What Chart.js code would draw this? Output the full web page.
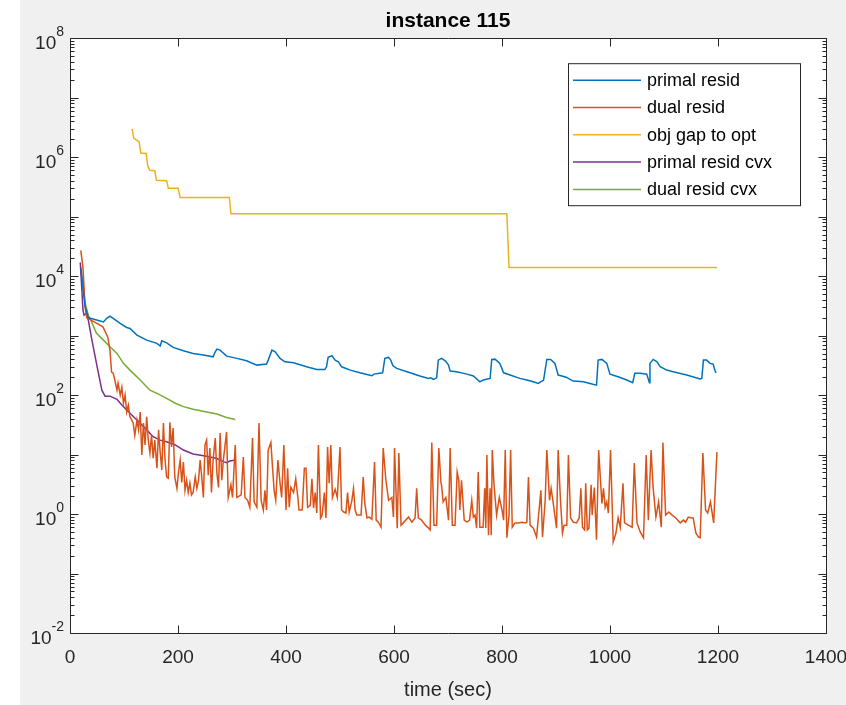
<!DOCTYPE html>
<html>
<head>
<meta charset="utf-8">
<script src="https://cdn.jsdelivr.net/npm/chart.js@4.4.1/dist/chart.umd.min.js"></script>
<style>
  html, body { margin: 0; padding: 0; background: #f0f0f0; }
  #wrap { position: absolute; left: 0; top: 0; width: 846px; height: 705px; }
</style>
</head>
<body>
<div id="wrap"><canvas id="myChart" width="846" height="705"></canvas></div>
<script>
// values (time in sec)
const primalT = [20, 24, 28, 34, 46, 62, 68, 74, 80, 93,
  105, 111, 124, 142, 161, 167, 170, 179, 191, 210,
  228, 247, 265, 269, 272, 278, 290, 309, 327, 346,
  364, 367, 374, 380, 389, 398, 414, 438, 457, 472,
  475, 478, 485, 491, 497, 503, 519, 537, 559, 563,
  579, 583, 590, 594, 598, 605, 624, 648, 664, 668,
  673, 679, 682, 688, 695, 701, 704, 716, 735, 747,
  759, 765, 778, 781, 787, 796, 803, 815, 833, 846,
  858, 867, 877, 883, 890, 898, 904, 911, 920, 926,
  932, 951, 963, 975, 978, 985, 994, 1000, 1015, 1031,
  1042, 1046, 1056, 1068, 1073, 1074, 1080, 1087, 1093, 1105,
  1117, 1142, 1167, 1170, 1173, 1179, 1185, 1191, 1195, 1197];
const primalResid = [1.35e4, 6.6e3, 3.05e3, 2.0e3, 1.87e3, 1.7e3, 1.95e3, 2.13e3, 1.95e3, 1.6e3,
  1.37e3, 1.32e3, 1.02e3, 840, 740, 667, 818, 757, 634, 556,
  502, 470, 440, 535, 593, 570, 452, 414, 377, 319,
  332, 387, 570, 535, 414, 363, 349, 299, 270, 270,
  299, 430, 458, 387, 363, 299, 263, 237, 211, 225,
  237, 414, 430, 387, 311, 281, 247, 209, 191, 195,
  184, 195, 387, 414, 377, 319, 253, 247, 225, 209,
  167, 179, 191, 398, 402, 341, 237, 217, 191, 179,
  167, 157, 179, 398, 398, 341, 217, 209, 198, 184,
  172, 167, 157, 147, 387, 398, 341, 225, 203, 179,
  161, 232, 232, 225, 161, 341, 398, 363, 299, 263,
  247, 217, 186, 191, 387, 387, 341, 332, 247, 237];

const dualT = [20, 24, 28, 31, 40, 61, 70, 74, 77, 80,
  83, 87, 89, 93, 96, 99, 102, 105, 108, 111,
  117, 120, 124, 127, 130, 133, 136, 139, 142, 145,
  148, 151, 154, 157, 161, 164, 167, 170, 173, 176,
  179, 182, 185, 188, 191, 194, 198, 201, 204, 207,
  210, 213, 216, 219, 222, 225, 228, 232, 235, 238,
  241, 244, 247, 250, 253, 256, 259, 262, 265, 269,
  272, 275, 278, 281, 284, 290, 293, 298, 301, 306,
  309, 317, 321, 324, 329, 333, 338, 341, 346, 350,
  354, 358, 361, 364, 367, 372, 375, 378, 381, 385,
  389, 392, 396, 400, 403, 406, 409, 414, 418, 422,
  424, 430, 434, 437, 440, 445, 448, 451, 454, 457,
  460, 464, 467, 471, 474, 477, 480, 483, 486, 491,
  495, 500, 503, 507, 511, 514, 517, 522, 525, 528,
  531, 539, 543, 546, 550, 554, 559, 564, 567, 571,
  576, 580, 585, 590, 596, 599, 601, 606, 609, 613,
  617, 627, 633, 639, 642, 645, 651, 658, 664, 667,
  670, 674, 679, 683, 687, 688, 691, 696, 701, 704,
  708, 713, 717, 720, 722, 725, 730, 735, 740, 744,
  747, 750, 753, 756, 759, 765, 768, 770, 772, 775,
  778, 780, 782, 785, 790, 795, 800, 803, 806, 809,
  813, 816, 819, 824, 830, 837, 843, 846, 849, 852,
  858, 864, 872, 875, 880, 883, 888, 891, 895, 901,
  904, 908, 912, 915, 920, 923, 927, 932, 938, 943,
  946, 949, 953, 955, 958, 961, 965, 967, 971, 975,
  979, 985, 988, 991, 994, 997, 1001, 1006, 1011, 1015,
  1019, 1024, 1027, 1034, 1041, 1045, 1050, 1056, 1062, 1067,
  1071, 1076, 1080, 1085, 1090, 1095, 1098, 1103, 1109, 1115,
  1122, 1130, 1136, 1140, 1145, 1151, 1154, 1159, 1164, 1167,
  1172, 1177, 1181, 1186, 1192, 1198];
const dualResid = [2.7e4, 1.4e4, 3.0e3, 2.0e3, 1.8e3, 1.4e3, 940, 570, 244, 234,
  179, 121, 159, 100, 136, 73, 100, 52, 68, 43,
  34, 21, 38, 26, 52, 9.8, 34, 14.5, 43, 17.5,
  10.6, 21, 8.7, 17.5, 5.9, 26, 11, 5.5, 34, 8.1,
  4.2, 4.0, 35, 13.4, 28, 4.2, 2.7, 5.1, 8.1, 3.4,
  7.5, 2.5, 3.7, 2.3, 3.3, 2.1, 2.3, 4.2, 2.7, 3.7,
  8.1, 4.2, 1.9, 14.5, 17.5, 4.5, 12.9, 2.3, 8.1, 19,
  4.9, 2.8, 23, 3.7, 8.1, 24, 1.9, 3.1, 1.9, 14.5,
  1.9, 2.1, 9.1, 1.9, 1.7, 1.3, 19, 1.6, 1.3, 34,
  1.7, 1.17, 2.5, 1.17, 11.9, 16, 6.2, 2.5, 1.7, 8.1,
  3.3, 1.9, 14.5, 1.17, 5.9, 1.3, 2.8, 2.3, 3.9, 1.9,
  1.17, 1.17, 5.9, 5.9, 1.3, 1.4, 3.9, 1.26, 2.3, 1.04,
  14.5, 0.86, 0.96, 2.3, 0.86, 13.4, 3.3, 14.5, 1.9, 2.6,
  1.9, 13.4, 1.17, 1.08, 1.04, 2.3, 1.08, 1.7, 2.7, 1.17,
  0.96, 0.96, 4.2, 1.5, 0.86, 0.89, 0.82, 7.5, 0.79, 0.73,
  0.6, 12.9, 3.7, 1.7, 1.9, 0.89, 12.9, 0.58, 10.6, 0.65,
  0.71, 0.89, 0.73, 0.86, 2.7, 0.86, 0.79, 0.65, 0.58, 0.54,
  16, 0.65, 0.65, 12.9, 3.3, 3.1, 1.6, 1.9, 0.79, 12.9,
  0.65, 0.65, 5.1, 3.7, 1.17, 3.7, 0.79, 0.73, 0.79, 1.7,
  0.89, 0.96, 0.58, 5.1, 0.6, 0.6, 2.7, 0.58, 9.8, 0.44,
  2.7, 0.44, 11.9, 3.3, 0.96, 1.9, 1.17, 0.79, 11.9, 0.40,
  0.96, 11.9, 0.6, 0.71, 0.71, 0.73, 0.71, 0.73, 4.2, 0.65,
  0.58, 0.41, 2.5, 0.41, 1.7, 11.9, 1.7, 2.7, 1.5, 0.58,
  11.9, 1.9, 0.48, 0.65, 0.65, 9.8, 0.86, 0.73, 0.71, 0.86,
  2.7, 0.6, 0.54, 3.3, 0.54, 0.58, 3.1, 0.96, 2.8, 0.37,
  11.9, 1.5, 2.7, 1.3, 1.6, 1.04, 11.9, 0.34, 0.48, 0.86,
  0.6, 3.3, 0.71, 0.65, 0.6, 7.2, 0.71, 0.5, 0.4, 9.8,
  0.79, 11.9, 2.7, 0.89, 1.6, 0.6, 16, 0.96, 1.08, 0.96,
  0.86, 0.71, 0.79, 0.73, 0.89, 0.86, 0.86, 0.48, 0.41, 0.40,
  10.6, 1.17, 1.04, 1.6, 0.71, 11];

const gapT = [115, 118, 128, 131, 141, 144, 148, 157, 160, 179, 182, 200, 204, 295, 298, 809, 813, 1198];
const objGap = [3.0e6, 2.1e6, 1.8e6, 1.17e6, 1.15e6, 7.1e5, 6.0e5, 5.9e5, 4.1e5, 4.0e5,
  3.0e5, 3.0e5, 2.1e5, 2.1e5, 1.12e5, 1.12e5, 1.4e4, 1.4e4];

const primalCvxT = [19, 22, 24, 26, 30, 34, 40, 49, 59, 65, 74, 87, 96, 105,
  124, 142, 154, 167, 179, 195, 210, 228, 253, 272, 284, 290, 296, 307];
const primalResidCvx = [1.7e4, 5.8e3, 2.7e3, 2.2e3, 2.36e3, 1.8e3, 900, 341, 121, 96, 96, 85, 68, 56,
  38, 26, 20, 17.5, 16.4, 14.5, 11.9, 10.2, 9.4, 8.6, 7.6, 7.3, 7.8, 8.1];

const dualCvxT = [20, 24, 28, 34, 40, 49, 62, 74, 87, 99, 111, 130, 148, 161, 179, 195, 210, 228, 253, 272, 290, 306];
const dualResidCvx = [1.43e4, 6.6e3, 3.5e3, 2.2e3, 1.7e3, 1.09e3, 840, 649, 502, 341, 263, 179, 121, 107,
  88, 73, 64, 58, 52, 48, 42, 39];

const seriesNames = ['primal resid', 'dual resid', 'obj gap to opt', 'primal resid cvx', 'dual resid cvx'];
const seriesColors = ['#0072BD', '#D95319', '#EDB120', '#7E2F8E', '#77AC30'];
const yTicks = [1e-2, 1e-1, 1e0, 1e1, 1e2, 1e3, 1e4, 1e5, 1e6, 1e7, 1e8];
const yLabelExps = [-2, 0, 2, 4, 6, 8];

const FONT = '"Liberation Sans", Arial, sans-serif';
const AXC = '#262626';

function pts(xs, ys) {
  return xs.map((x, i) => ({ x: x, y: ys[i] }));
}

const allSeries = [
  pts(primalT, primalResid),
  pts(dualT, dualResid),
  pts(gapT, objGap),
  pts(primalCvxT, primalResidCvx),
  pts(dualCvxT, dualResidCvx)
];

// matlab-ish axes: white plot box, inward ticks, log minor ticks, superscript labels, boxed legend
const matlabAxes = {
  id: 'matlabAxes',
  beforeDraw(chart) {
    const ctx = chart.ctx;
    const a = chart.chartArea;
    ctx.save();
    ctx.fillStyle = '#f0f0f0';
    ctx.fillRect(0, 0, chart.width, chart.height);
    ctx.fillStyle = '#ffffff';
    ctx.fillRect(0, 0, 20, chart.height);
    ctx.fillRect(a.left, a.top, a.right - a.left, a.bottom - a.top);
    ctx.restore();
  },
  afterDraw(chart) {
    const ctx = chart.ctx;
    const a = chart.chartArea;
    const xs = chart.scales.x, ys = chart.scales.y;
    const L = Math.round(a.left) + 0.5, R = Math.round(a.right) + 0.5;
    const T = Math.round(a.top) + 0.5, B = Math.round(a.bottom) + 0.5;
    ctx.save();
    ctx.strokeStyle = AXC;
    ctx.lineWidth = 1;
    ctx.beginPath();
    ctx.rect(L, T, R - L, B - T);
    // x ticks bottom + top
    xs.ticks.forEach(t => {
      const px = Math.round(xs.getPixelForValue(t.value)) + 0.5;
      ctx.moveTo(px, B); ctx.lineTo(px, B - 8);
      ctx.moveTo(px, T); ctx.lineTo(px, T + 8);
    });
    // y major + minor ticks left + right
    yTicks.forEach((v, i) => {
      const py = Math.round(ys.getPixelForValue(v)) + 0.5;
      ctx.moveTo(L, py); ctx.lineTo(L + 8, py);
      ctx.moveTo(R, py); ctx.lineTo(R - 8, py);
      if (i < yTicks.length - 1) {
        for (let k = 2; k <= 9; k++) {
          const qy = Math.round(ys.getPixelForValue(v * k)) + 0.5;
          ctx.moveTo(L, qy); ctx.lineTo(L + 4, qy);
          ctx.moveTo(R, qy); ctx.lineTo(R - 4, qy);
        }
      }
    });
    ctx.stroke();

    // y labels 10^n
    ctx.fillStyle = AXC;
    ctx.textBaseline = 'middle';
    yLabelExps.forEach(e => {
      const py = ys.getPixelForValue(Math.pow(10, e));
      const rx = a.left - 6;
      ctx.font = '14px ' + FONT;
      const ew = ctx.measureText(String(e)).width;
      ctx.textAlign = 'left';
      ctx.fillText(String(e), rx - ew, py - 6);
      ctx.font = '19px ' + FONT;
      ctx.textAlign = 'right';
      ctx.fillText('10', rx - ew, py + 6);
    });

    // legend box
    const bx = 568, by = a.top + 25, bw = 232, bh = 142;
    ctx.fillStyle = '#ffffff';
    ctx.fillRect(bx, by, bw, bh);
    ctx.strokeStyle = AXC;
    ctx.lineWidth = 1;
    ctx.strokeRect(bx + 0.5, by + 0.5, bw, bh);
    ctx.font = '18px ' + FONT;
    ctx.textAlign = 'left';
    ctx.textBaseline = 'middle';
    chart.data.datasets.forEach((ds, i) => {
      const ry = by + 17 + i * 27.3;
      ctx.strokeStyle = ds.borderColor;
      ctx.lineWidth = 1.5;
      ctx.beginPath();
      ctx.moveTo(bx + 5, ry); ctx.lineTo(bx + 73, ry);
      ctx.stroke();
      ctx.fillStyle = '#000000';
      ctx.fillText(ds.label, bx + 79, ry + 1);
    });
    ctx.restore();
  }
};

const data = {
  datasets: seriesNames.map((name, i) => ({
    label: name,
    data: allSeries[i],
    borderColor: seriesColors[i],
    backgroundColor: seriesColors[i],
    borderWidth: 1.5,
    pointRadius: 0,
    tension: 0,
    fill: false
  }))
};

const config = {
  type: 'line',
  data: data,
  options: {
    responsive: false,
    animation: false,
    devicePixelRatio: 1,
    layout: { padding: { left: 0, right: 20, top: 0, bottom: 0 } },
    plugins: {
      legend: { display: false },
      tooltip: { enabled: false },
      title: {
        display: true,
        fullSize: false,
        text: 'instance 115',
        color: '#000000',
        font: { family: FONT, size: 21, weight: 'bold' },
        padding: { top: 9, bottom: 4 }
      }
    },
    scales: {
      x: {
        type: 'linear',
        min: 0,
        max: 1400,
        grid: { display: false, drawTicks: false },
        border: { display: false },
        ticks: {
          stepSize: 200, color: AXC, padding: 13, maxRotation: 0,
          font: { family: FONT, size: 19 },
          callback: v => String(v)
        },
        title: { display: true, text: 'time (sec)', color: AXC, font: { family: FONT, size: 20 }, padding: { top: 4, bottom: 3 } },
        afterFit(s) { s.height = 72; s.paddingLeft = 0; s.paddingRight = 0; }
      },
      y: {
        type: 'logarithmic',
        min: 1e-2,
        max: 1e8,
        grid: { display: false },
        border: { display: false },
        ticks: { display: false },
        afterBuildTicks(s) { s.ticks = yTicks.map(v => ({ value: v })); },
        afterFit(s) { s.width = 70; s.paddingTop = 0; s.paddingBottom = 0; }
      }
    }
  },
  plugins: [matlabAxes]
};

const myChart = new Chart(document.getElementById('myChart'), config);
</script>
</body>
</html>
